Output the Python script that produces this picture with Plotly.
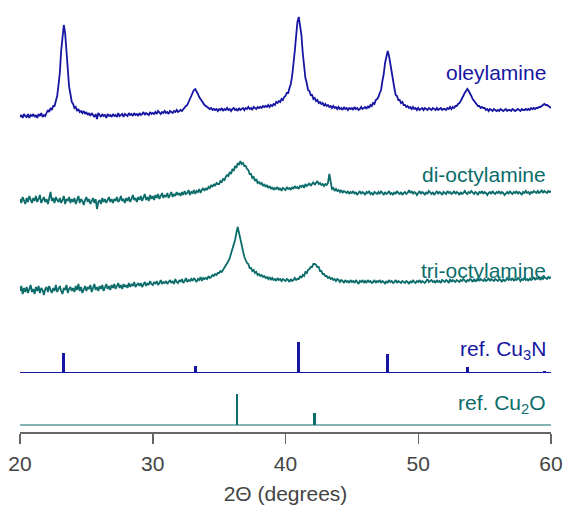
import plotly.graph_objects as go

# ---------------- data ----------------
# measured patterns: intensity (a.u.) on a 0.1 degree 2-theta grid from 20.0 to 60.0
two_theta_start = 20.0
two_theta_step = 0.1

oleylamine = [
    3, 5, 2, 6, 4, 3, 6, 2, 5, 4,
    6, 3, 5, 2, 6, 4, 7, 3, 5, 4,
    7, 10, 8, 12, 10, 14, 14, 20, 24, 35,
    47, 69, 85, 95, 87, 67, 49, 33, 26, 18,
    16, 12, 13, 9, 11, 8, 9, 7, 9, 6,
    8, 5, 7, 4, 7, 5, 3, 6, 1, 7,
    5, 3, 6, 4, 5, 2, 6, 4, 5, 3,
    6, 4, 5, 3, 7, 4, 5, 6, 3, 6,
    5, 4, 7, 5, 6, 4, 7, 5, 6, 4,
    7, 5, 6, 8, 5, 7, 6, 5, 8, 6,
    7, 6, 8, 6, 9, 7, 6, 8, 7, 9,
    7, 8, 6, 9, 8, 7, 9, 8, 10, 8,
    9, 10, 9, 11, 12, 14, 15, 18, 21, 24,
    28, 30, 31, 29, 26, 23, 21, 18, 17, 15,
    14, 13, 12, 11, 12, 10, 11, 10, 11, 9,
    11, 10, 12, 9, 11, 10, 12, 10, 11, 9,
    11, 12, 10, 11, 9, 12, 10, 11, 12, 10,
    12, 11, 13, 11, 12, 10, 13, 12, 11, 13,
    12, 13, 12, 14, 13, 14, 13, 15, 13, 15,
    14, 16, 15, 18, 17, 19, 18, 21, 20, 23,
    24, 27, 27, 32, 36, 44, 54, 69, 84, 98,
    103, 96, 85, 67, 55, 42, 37, 30, 29, 25,
    25, 21, 22, 19, 20, 17, 18, 16, 17, 14,
    16, 14, 15, 13, 14, 12, 14, 12, 13, 11,
    13, 11, 12, 10, 13, 11, 12, 10, 12, 11,
    12, 10, 13, 11, 12, 10, 11, 13, 11, 12,
    13, 11, 14, 12, 15, 14, 17, 16, 20, 21,
    23, 27, 30, 39, 46, 57, 63, 69, 64, 55,
    47, 37, 32, 25, 24, 20, 20, 17, 18, 15,
    15, 13, 14, 12, 13, 11, 13, 11, 12, 10,
    12, 10, 11, 12, 10, 12, 11, 10, 12, 11,
    10, 12, 11, 10, 12, 10, 11, 12, 10, 11,
    11, 10, 12, 11, 13, 11, 13, 12, 14, 14,
    16, 17, 19, 22, 24, 27, 29, 31, 29, 27,
    24, 21, 19, 17, 16, 14, 14, 12, 13, 12,
    12, 10, 11, 9, 11, 10, 9, 11, 10, 9,
    10, 9, 11, 10, 9, 10, 11, 9, 10, 10,
    9, 11, 10, 9, 10, 11, 10, 9, 11, 10,
    10, 11, 10, 11, 10, 12, 11, 12, 11, 12,
    12, 13, 13, 14, 15, 16, 15, 15, 14, 13,
    12,
]

di_octylamine = [
    6, 2, 8, 4, 1, 7, 3, 9, 5, 2,
    7, 4, 9, 3, 6, 10, 2, 5, 8, 3,
    6, 1, 9, 13, 4, 7, 2, 8, 5, 3,
    7, 2, 5, 9, 1, 6, 4, 8, 2, 6,
    3, 7, 1, 5, 9, 2, 6, 4, 0, 5,
    8, 3, 6, 1, 5, 7, 2, 6, -4, 3,
    5, 1, 7, 3, 6, 2, 5, 8, 3, 6,
    2, 6, 4, 8, 3, 5, 9, 4, 6, 2,
    7, 4, 8, 3, 6, 10, 5, 7, 3, 8,
    5, 9, 4, 7, 11, 5, 8, 4, 10, 6,
    9, 5, 10, 7, 11, 6, 9, 12, 7, 10,
    8, 12, 7, 10, 13, 8, 11, 9, 13, 10,
    12, 9, 13, 10, 14, 11, 12, 15, 10, 13,
    12, 15, 11, 14, 13, 16, 12, 15, 17, 14,
    17, 15, 18, 17, 20, 18, 21, 19, 22, 21,
    21, 24, 23, 26, 25, 28, 30, 29, 33, 31,
    36, 34, 39, 37, 42, 40, 44, 41, 42, 39,
    39, 36, 35, 31, 31, 27, 28, 24, 26, 22,
    23, 21, 22, 19, 21, 18, 20, 17, 19, 16,
    18, 15, 17, 16, 18, 15, 17, 14, 17, 16,
    15, 18, 16, 17, 15, 18, 16, 19, 17, 18,
    16, 19, 18, 20, 17, 21, 19, 20, 22, 19,
    21, 23, 20, 22, 24, 21, 22, 20, 21, 19,
    21, 20, 22, 31, 22, 16, 17, 14, 16, 14,
    15, 13, 15, 12, 14, 13, 12, 14, 11, 13,
    12, 14, 11, 13, 10, 12, 14, 11, 13, 12,
    10, 13, 12, 14, 11, 12, 10, 13, 12, 11,
    13, 11, 14, 12, 10, 13, 11, 12, 14, 11,
    12, 10, 13, 11, 14, 12, 11, 13, 10, 12,
    13, 11, 12, 15, 12, 14, 11, 13, 12, 10,
    12, 14, 11, 13, 12, 10, 13, 11, 14, 12,
    11, 13, 10, 12, 14, 11, 13, 12, 10, 13,
    12, 11, 14, 12, 13, 11, 12, 14, 11, 13,
    12, 10, 13, 11, 12, 14, 12, 11, 13, 12,
    14, 12, 11, 13, 12, 10, 13, 12, 14, 11,
    13, 12, 10, 12, 13, 11, 14, 12, 11, 13,
    12, 14, 11, 13, 12, 10, 12, 13, 11, 14,
    12, 11, 13, 12, 14, 11, 13, 12, 10, 13,
    12, 14, 12, 13, 11, 13, 12, 14, 13, 12,
    14, 12, 13, 15, 12, 14, 13, 12, 14, 13,
    14,
]

tri_octylamine = [
    4, 9, 1, 7, 3, 8, 2, 6, 10, 3,
    6, 1, 8, 4, 9, 2, 7, 5, 0, 6,
    8, 3, 9, 5, 2, 7, 4, 10, 3, 6,
    9, 4, 1, 7, 5, 10, 2, 6, 8, 4,
    7, 3, 9, 5, 11, 4, 8, 2, 6, 9,
    4, 8, 6, 10, 3, 7, 11, 5, 8, 4,
    9, 6, 10, 4, 8, 11, 6, 9, 5, 10,
    7, 11, 6, 9, 12, 7, 10, 6, 11, 8,
    10, 7, 12, 8, 11, 9, 13, 8, 10, 12,
    9, 12, 8, 11, 13, 9, 12, 10, 14, 11,
    10, 13, 11, 14, 10, 12, 15, 11, 13, 12,
    14, 11, 13, 15, 12, 14, 11, 16, 13, 12,
    15, 13, 16, 12, 14, 17, 13, 15, 14, 16,
    14, 17, 15, 13, 16, 15, 18, 14, 17, 16,
    17, 16, 19, 17, 18, 20, 19, 21, 20, 22,
    22, 24, 23, 25, 27, 29, 31, 34, 37, 41,
    45, 50, 55, 62, 68, 62, 55, 49, 43, 38,
    35, 32, 31, 27, 27, 24, 25, 22, 23, 20,
    21, 19, 20, 18, 19, 17, 18, 16, 18, 15,
    17, 15, 16, 14, 17, 15, 16, 14, 16, 15,
    14, 16, 15, 13, 16, 14, 15, 17, 15, 16,
    16, 19, 17, 20, 19, 23, 22, 25, 26, 28,
    28, 31, 31, 30, 28, 28, 24, 24, 21, 21,
    19, 19, 17, 18, 16, 17, 15, 16, 14, 16,
    15, 13, 15, 14, 12, 15, 13, 14, 12, 15,
    13, 14, 12, 15, 13, 11, 14, 13, 15, 12,
    14, 12, 15, 13, 14, 12, 13, 15, 12, 14,
    13, 15, 12, 14, 13, 11, 14, 12, 15, 13,
    14, 12, 13, 15, 12, 14, 13, 12, 14, 13,
    12, 14, 13, 11, 14, 12, 15, 13, 12, 14,
    13, 15, 12, 14, 13, 12, 14, 16, 13, 14,
    15, 13, 14, 12, 15, 13, 14, 12, 15, 14,
    13, 15, 14, 12, 16, 13, 15, 14, 13, 15,
    14, 13, 15, 14, 16, 14, 13, 15, 14, 16,
    15, 13, 16, 14, 15, 17, 14, 16, 15, 14,
    16, 14, 15, 17, 14, 16, 15, 14, 16, 15,
    14, 16, 15, 13, 16, 14, 15, 17, 15, 16,
    15, 17, 14, 16, 15, 17, 16, 14, 16, 15,
    17, 15, 16, 14, 17, 15, 16, 18, 15, 17,
    16, 18, 15, 17, 16, 18, 17, 16, 18, 17,
    18,
]

# reference stick patterns: 2-theta positions and relative intensities (%)
cu3n_pos = [23.3, 33.2, 41.0, 47.7, 53.7, 59.5]
cu3n_int = [63, 20, 100, 60, 18, 4]
cu2o_pos = [36.35, 42.2]
cu2o_int = [100, 40]

x_ticks = [20, 30, 40, 50, 60]

# ---------------- styling / layout constants ----------------
BLUE = "#1616a2"
TEAL = "#0b6c6a"
TEXT_GREY = "#444444"
AXIS_GREY = "#666666"
FONT = "Liberation Sans, Arial, sans-serif"

offset_ole = 312
offset_di = 227
offset_tri = 137
offset_cu3n = 59.5
offset_cu2o = 7
stick_scale = 0.31  # vertical units per % intensity

fig = go.Figure()

for vals, off, col in [
    (oleylamine, offset_ole, BLUE),
    (di_octylamine, offset_di, TEAL),
    (tri_octylamine, offset_tri, TEAL),
]:
    fig.add_trace(go.Scatter(
        x0=two_theta_start, dx=two_theta_step,
        y=[v + off for v in vals],
        mode="lines", line=dict(color=col, width=1.8),
        hoverinfo="skip", showlegend=False,
    ))

# reference baselines
for off, col in [(offset_cu3n, BLUE), (offset_cu2o, TEAL)]:
    fig.add_shape(type="line", xref="paper", x0=0, x1=1, yref="y", y0=off, y1=off,
                  line=dict(color=col, width=1.2), layer="below")

# reference sticks
for pos, inten, off, col in [
    (cu3n_pos, cu3n_int, offset_cu3n, BLUE),
    (cu2o_pos, cu2o_int, offset_cu2o, TEAL),
]:
    fig.add_trace(go.Bar(
        x=pos, y=[i * stick_scale for i in inten], base=off,
        width=0.2, marker=dict(color=col, line=dict(width=0)),
        hoverinfo="skip", showlegend=False,
    ))

labels = [
    ("oleylamine", 360, BLUE),
    ("di-octylamine", 258, TEAL),
    ("tri-octylamine", 162, TEAL),
    ("ref. Cu<sub>3</sub>N", 82, BLUE),
    ("ref. Cu<sub>2</sub>O", 28, TEAL),
]
for txt, yy, col in labels:
    fig.add_annotation(x=59.8, y=yy, xref="x", yref="y", text=txt, showarrow=False,
                       xanchor="right", yanchor="middle",
                       font=dict(family=FONT, size=21, color=col))

fig.update_layout(
    width=564, height=507,
    margin=dict(l=20, r=13, t=10, b=75, autoexpand=False),
    paper_bgcolor="white", plot_bgcolor="white",
    barmode="overlay", bargap=0,
    font=dict(family=FONT, size=21, color=TEXT_GREY),
    showlegend=False,
)
fig.update_xaxes(
    range=[20, 60], tickvals=x_ticks, ticktext=[str(t) for t in x_ticks],
    automargin=False,
    showline=True, linecolor=AXIS_GREY, linewidth=1.5,
    ticks="outside", ticklen=10, tickwidth=1.5, tickcolor=AXIS_GREY,
    showgrid=False, zeroline=False,
    tickfont=dict(family=FONT, size=21, color=TEXT_GREY),
    ticklabelstandoff=2,
    title=dict(text="2Θ (degrees)", font=dict(family=FONT, size=21, color=TEXT_GREY), standoff=12),
)
fig.update_yaxes(range=[0, 422], visible=False, showgrid=False, zeroline=False,
                 fixedrange=True, automargin=False)

# remove the default page margin so the 564x507 figure fills the window exactly
page_css = ("document.documentElement.style.margin='0';document.body.style.margin='0';"
            "document.documentElement.style.overflow='hidden';document.body.style.overflow='hidden';")
fig.write_html("out.html", post_script=page_css,
               config={"displayModeBar": False, "staticPlot": True})
